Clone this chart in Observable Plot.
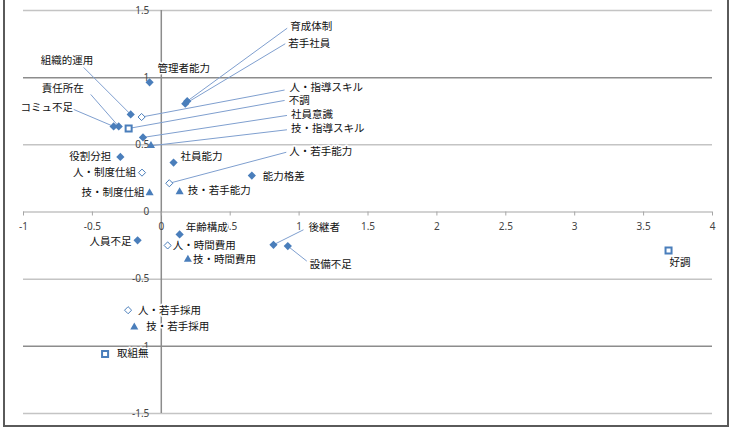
<!DOCTYPE html>
<html>
<head>
<meta charset="utf-8">
<script src="https://cdn.jsdelivr.net/npm/d3@7"></script>
<script src="https://cdn.jsdelivr.net/npm/@observablehq/plot@0.6"></script>
<style>
  html, body { margin: 0; padding: 0; background: #fff; }
  #wrap { position: relative; width: 735px; height: 432px; overflow: hidden; }
  #wrap svg { position: absolute; left: 0; top: 0; }
  #border { position: absolute; left: 3px; top: -4px; width: 726px; height: 431px; box-sizing: border-box;
            border: 2px solid #5a5a5a; border-top: none; pointer-events: none; }
</style>
</head>
<body>
<div id="wrap"><div id="border"></div></div>
<script>
// ---- data ----
const names = ["組織的運用","責任所在","コミュ不足","管理者能力","育成体制","若手社員","人・指導スキル","不調","社員意識","技・指導スキル","人・若手能力","能力格差","後継者","設備不足","好調","役割分担","人・制度仕組","技・制度仕組","社員能力","技・若手能力","年齢構成","人・時間費用","技・時間費用","人員不足","人・若手採用","技・若手採用","取組無"];
const xValues = [-0.222,-0.309,-0.346,-0.085,0.188,0.174,-0.143,-0.237,-0.133,-0.075,0.058,0.657,0.814,0.918,3.681,-0.297,-0.140,-0.085,0.089,0.133,0.133,0.046,0.193,-0.172,-0.241,-0.196,-0.408];
const yValues = [0.726,0.637,0.637,0.965,0.825,0.806,0.707,0.622,0.555,0.493,0.214,0.271,-0.244,-0.254,-0.286,0.410,0.293,0.142,0.368,0.149,-0.167,-0.249,-0.353,-0.211,-0.731,-0.858,-1.057];
// marker type: F = filled diamond, O = open diamond, S = open square, T = triangle
const kinds = ["F","F","F","F","F","F","O","S","F","T","O","F","F","F","S","F","O","T","F","T","F","O","T","F","O","T","S"];
const xTicks = [-1,-0.5,0,0.5,1,1.5,2,2.5,3,3.5,4];
const yTicks = [-1.5,-1,-0.5,0,0.5,1,1.5];
const xTickLabels = ["-1","-0.5","0","0.5","1","1.5","2","2.5","3","3.5","4"];
const yTickLabels = ["-1.5","-1","-0.5","0","0.5","1","1.5"];

// ---- label layout (pixel offsets from each point) ----
const labelDx = [-90,-77,-93,8,103,103,148,160,148,140,120,11,35,22,1,-9,-6,-5,7,8,6,5,5,-6,10,12,12];
const labelDy = [-54,-38,-19,-14,-75,-60,-29,-28,-23,-17,-32,1,-17,19,12,0,0,0,-6,-1,-7,0,0,1,0,-1,0];
const labelAnchor = ["start","start","start","start","start","start","start","start","start","start","start","start","start","start","start","end","end","end","start","start","start","start","start","end","start","start","start"];
const leaderDx = [-47,-28,-40,null,100,100,143,156,144,136,117,null,30,19,null,null,null,null,null,null,null,null,null,null,null,null,null];
const leaderDy = [-47,-32,-17,null,-73,-60,-27,-28,-22,-16,-31,null,-15,15,null,null,null,null,null,null,null,null,null,null,null,null,null];

// ---- geometry ----
const W = 735, H = 432, mL = 23, mR = 23, mT = 10, mB = 19;
const xDomain = [-1, 4], yDomain = [-1.5, 1.5];
const sx = d3.scaleLinear(xDomain, [mL, W - mR]);
const sy = d3.scaleLinear(yDomain, [H - mB, mT]);
const blue = "#4a7ebb";
const cjk = "'Noto Sans CJK JP', 'Noto Sans', sans-serif";

const rows = names.map((name, i) => ({
  name, x: xValues[i], y: yValues[i], kind: kinds[i],
  tx: sx.invert(sx(xValues[i]) + labelDx[i]),
  ty: sy.invert(sy(yValues[i]) + labelDy[i]),
  anchor: labelAnchor[i],
  lx: leaderDx[i] == null ? null : sx.invert(sx(xValues[i]) + leaderDx[i]),
  ly: leaderDy[i] == null ? null : sy.invert(sy(yValues[i]) + leaderDy[i])
}));
const leaders = rows.filter(d => d.lx != null);
const tickLen = sy.invert(sy(0) + 4);
const xTickRows = xTicks.map((v, i) => ({v, label: xTickLabels[i]}));
const yTickRows = yTicks.map((v, i) => ({v, label: yTickLabels[i]}));

const chart = Plot.plot({
  width: W, height: H,
  marginLeft: mL, marginRight: mR, marginTop: mT, marginBottom: mB,
  x: {domain: xDomain, axis: null},
  y: {domain: yDomain, axis: null},
  style: {background: "transparent", overflow: "visible"},
  marks: [
    Plot.ruleY([1.5, 0.5, -0.5, -1.5], {stroke: "#c4c4c4", strokeWidth: 1.5}),
    Plot.ruleY([1, -1], {stroke: "#8c8c8c", strokeWidth: 1.5}),
    Plot.ruleY([0], {stroke: "#a6a6a6", strokeWidth: 1.2}),
    Plot.ruleX([0], {stroke: "#8c8c8c", strokeWidth: 1.5}),
    Plot.ruleX(xTicks, {x: d => d, y1: 0, y2: tickLen, stroke: "#a6a6a6"}),
    Plot.text(xTickRows, {x: "v", y: 0, text: "label", dy: 15, fontSize: 10, fill: "#444", fontFamily: "'Noto Sans', sans-serif"}),
    Plot.text(yTickRows, {x: 0, y: "v", text: "label", dx: -12, textAnchor: "end", fontSize: 10, fill: "#444", fontFamily: "'Noto Sans', sans-serif"}),
    Plot.link(leaders, {x1: "x", y1: "y", x2: "lx", y2: "ly", stroke: "#7f9fcf", strokeWidth: 1}),
    Plot.dot(rows.filter(d => d.kind === "F"), {x: "x", y: "y", symbol: "diamond2", r: 3.7, fill: blue, stroke: "none"}),
    Plot.dot(rows.filter(d => d.kind === "O"), {x: "x", y: "y", symbol: "diamond2", r: 3.2, fill: "white", stroke: blue, strokeWidth: 1}),
    Plot.dot(rows.filter(d => d.kind === "S"), {x: "x", y: "y", symbol: "square", r: 3.4, fill: "white", stroke: blue, strokeWidth: 2}),
    Plot.dot(rows.filter(d => d.kind === "T"), {x: "x", y: "y", symbol: "triangle", r: 3, fill: blue, stroke: "none"}),
    Plot.text(rows.filter(d => d.anchor === "start"), {x: "tx", y: "ty", text: "name", textAnchor: "start", fontSize: 10.5, fill: "#111", fontFamily: cjk, stroke: "white", strokeWidth: 3, paintOrder: "stroke"}),
    Plot.text(rows.filter(d => d.anchor === "end"), {x: "tx", y: "ty", text: "name", textAnchor: "end", fontSize: 10.5, fill: "#111", fontFamily: cjk, stroke: "white", strokeWidth: 3, paintOrder: "stroke"})
  ]
});
document.getElementById("wrap").prepend(chart);
</script>
</body>
</html>
